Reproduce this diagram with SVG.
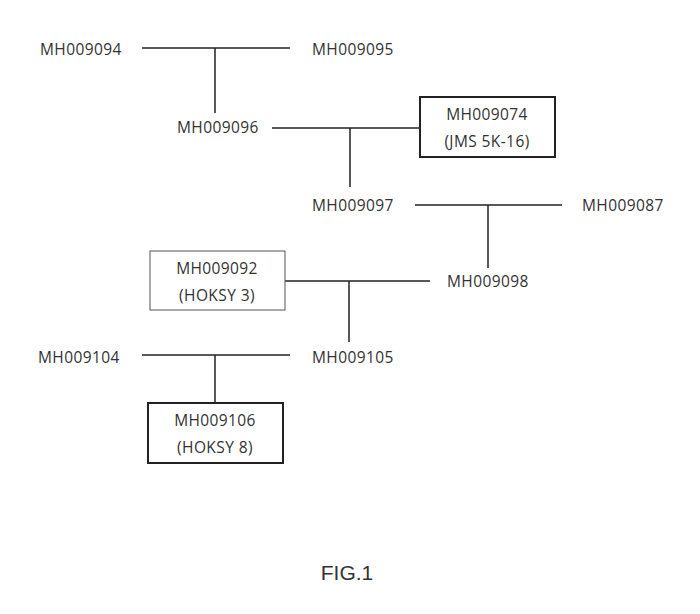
<svg xmlns="http://www.w3.org/2000/svg" width="700" height="614" viewBox="0 0 700 614">
<style>
text{font-family:"Open Sans","Liberation Sans",sans-serif;font-size:15.5px;letter-spacing:0.4px;fill:#333}
.l{stroke:#222;stroke-width:1.5;fill:none}
.bx{fill:#fff;stroke:#222;stroke-width:2}
.bt{fill:#fff;stroke:#555;stroke-width:1}
</style>
<rect width="700" height="614" fill="#fff"/>
<g id="connectors">
<path class="l" d="M142 48H290M215 48V113"/>
<path class="l" d="M272 128H420M350 128V187"/>
<path class="l" d="M415 205H562M488 205V268"/>
<path class="l" d="M285 281H430M349 281V342"/>
<path class="l" d="M142 355H290M215 355V403"/>
</g>
<g id="n094"><text x="40" y="55">MH009094</text></g>
<g id="n095"><text x="312" y="55">MH009095</text></g>
<g id="n096"><text x="177" y="133">MH009096</text></g>
<g id="n074"><rect class="bx" x="420" y="97" width="135" height="60"/><text x="487" y="120" text-anchor="middle">MH009074</text><text x="487" y="147" text-anchor="middle">(JMS 5K-16)</text></g>
<g id="n097"><text x="312" y="211">MH009097</text></g>
<g id="n087"><text x="582" y="211">MH009087</text></g>
<g id="n092"><rect class="bt" x="150" y="251" width="135" height="59"/><text x="217" y="274" text-anchor="middle">MH009092</text><text x="217" y="301" text-anchor="middle">(HOKSY 3)</text></g>
<g id="n098"><text x="447" y="287">MH009098</text></g>
<g id="n104"><text x="38" y="363">MH009104</text></g>
<g id="n105"><text x="312" y="363">MH009105</text></g>
<g id="n106"><rect class="bx" x="148" y="403" width="135" height="60"/><text x="215" y="426" text-anchor="middle">MH009106</text><text x="215" y="453" text-anchor="middle">(HOKSY 8)</text></g>
<text x="347" y="580" text-anchor="middle" style="font-family:'Liberation Sans',Arial,sans-serif;font-size:21px;letter-spacing:0">FIG.1</text>
</svg>
